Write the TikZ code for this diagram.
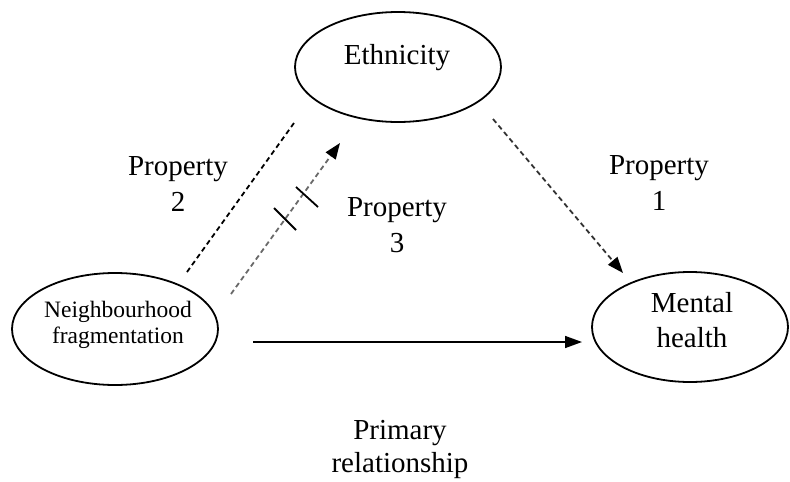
\documentclass[tikz,border=0pt]{standalone}
\usepackage{fontspec}
\setmainfont{Liberation Serif}
\usetikzlibrary{arrows.meta,shapes.geometric,calc}
\begin{document}
\begin{tikzpicture}[x=1pt,y=-1pt,
  oval/.style={draw, ellipse, line width=1.8pt, inner sep=0pt},
  lbl/.style={inner sep=0pt, align=center, font=\fontsize{29}{36}\selectfont},
  small/.style={inner sep=0pt, align=center, font=\fontsize{23.5}{26}\selectfont},
  dsh/.style={line width=1.8pt, dash pattern=on 5pt off 3.5pt},
]
\useasboundingbox (0,0) rectangle (790,482);
% ellipses
\node[oval, minimum width=206pt, minimum height=110pt] (eth) at (398,67) {};
\node[lbl] (etht) at (397,58) {Ethnicity};
\node[oval, minimum width=206pt, minimum height=112pt] (nf) at (115,329) {};
\node[small] (nft) at (118,324.5) {Neighbourhood\\fragmentation};
\node[oval, minimum width=196pt, minimum height=110pt] (mh) at (690,327) {};
\node[lbl, font=\fontsize{29}{35}\selectfont] (mht) at (692,320.5) {Mental\\health};
% labels
\node[lbl] (p2) at (178,184) {Property\\2};
\node[lbl] (p3) at (397,225) {Property\\3};
\node[lbl] (p1) at (659,183.5) {Property\\1};
\node[lbl, font=\fontsize{29}{33}\selectfont] (pr) at (400,449) {Primary\\relationship};
% connector end points
\coordinate (p2a) at (187,272);
\coordinate (p2b) at (294,123);
\coordinate (p3a) at (231,294);
\coordinate (p3b) at (340,143);
\coordinate (p1a) at (493,119);
\coordinate (p1b) at (623,273);
\coordinate (pra) at (253,342);
\coordinate (prb) at (582,342);
\coordinate (t1) at (285,219);
\coordinate (t2) at (307,197);
% connectors
\draw[dsh, black] (p2a) -- (p2b);
\draw[dsh, draw={rgb,255:red,105;green,105;blue,105},
  -{Triangle[length=16pt,width=12pt,fill=black,color=black]}] (p3a) -- (p3b);
\draw[dsh, draw={rgb,255:red,50;green,50;blue,50},
  -{Triangle[length=16pt,width=12pt,fill=black,color=black]}] (p1a) -- (p1b);
\draw[line width=1.6pt, -{Triangle[length=17pt,width=12pt]}] (pra) -- (prb);
% double tick marks
\draw[line width=1.8pt] ($(t1)+(-11,-11)$) -- ($(t1)+(11,11)$);
\draw[line width=1.8pt] ($(t2)+(-11,-10)$) -- ($(t2)+(11,10)$);
\end{tikzpicture}
\end{document}
